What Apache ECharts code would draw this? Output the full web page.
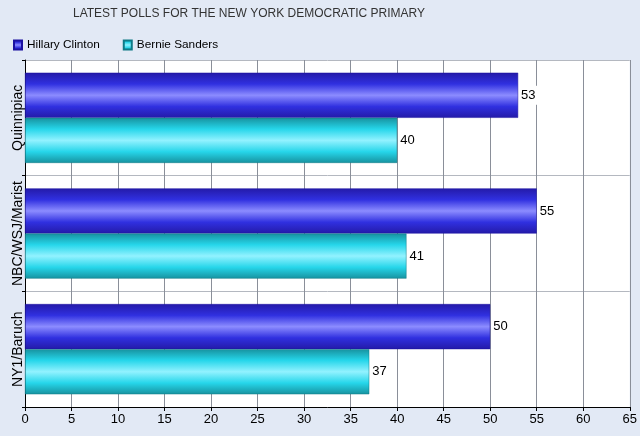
<!DOCTYPE html>
<html>
<head>
<meta charset="utf-8">
<script src="https://cdn.jsdelivr.net/npm/echarts@6/dist/echarts.min.js"></script>
<style>
  html, body { margin: 0; padding: 0; background: #e2e9f5; }
  #chart { width: 640px; height: 436px; }
</style>
</head>
<body>
<div id="chart"></div>
<script>
var polls = ['Quinnipiac', 'NBC/WSJ/Marist', 'NY1/Baruch'];
var clinton = [53, 55, 50];
var sanders = [40, 41, 37];
var xTicks = [0, 65, 5];   // min, max, interval

var font = 'Liberation Sans, Arial';

function tube(edge, mid, light) {
    return new echarts.graphic.LinearGradient(0, 0, 0, 1, [
        { offset: 0, color: edge },
        { offset: 0.25, color: mid },
        { offset: 0.5, color: light },
        { offset: 0.75, color: mid },
        { offset: 1, color: edge }
    ]);
}

var labelStyle = {
    show: true,
    position: 'right',
    distance: 1,
    color: '#000',
    fontSize: 13,
    fontFamily: font,
    backgroundColor: '#fff',
    padding: [3, 2, 3, 2]
};

var chart = echarts.init(document.getElementById('chart'));
var option = {
    backgroundColor: '#e2e9f5',
    animation: false,
    title: {
        text: 'LATEST POLLS FOR THE NEW YORK DEMOCRATIC PRIMARY',
        left: 68,
        top: 3,
        textStyle: { fontSize: 12, fontWeight: 'normal', color: '#333', fontFamily: font }
    },
    legend: {
        left: 8,
        top: 34,
        itemWidth: 8,
        itemHeight: 9,
        itemGap: 23,
        icon: 'rect',
        textStyle: { fontSize: 11.8, color: '#000', fontFamily: font },
        data: ['Hillary Clinton', 'Bernie Sanders']
    },
    grid: { left: 25, right: 9, top: 60, bottom: 29, show: true, backgroundColor: '#fff', borderWidth: 0 },
    xAxis: {
        type: 'value',
        min: xTicks[0],
        max: xTicks[1],
        interval: xTicks[2],
        axisLine: { show: true, lineStyle: { color: '#000' } },
        axisTick: { show: true, length: 4, lineStyle: { color: '#000' } },
        axisLabel: { color: '#000', fontSize: 13, fontFamily: font, margin: 6 },
        splitLine: { show: true, lineStyle: { color: '#8a8f99' } }
    },
    yAxis: {
        type: 'category',
        inverse: true,
        data: polls,
        axisLine: { show: true, lineStyle: { color: '#000' } },
        axisTick: { show: true, length: 3, interval: 0, lineStyle: { color: '#000' } },
        axisLabel: { rotate: 90, interval: 0, color: '#000', fontSize: 14, fontFamily: font, margin: 0 },
        splitLine: { show: true, interval: 0, lineStyle: { color: '#b4b8c0' } }
    },
    series: [
        {
            name: 'Hillary Clinton',
            type: 'bar',
            data: clinton,
            barGap: '0%',
            barCategoryGap: '22%',
            itemStyle: { color: tube('#241aa8', '#3030e0', '#8c8cff'), borderColor: '#1a10a0', borderWidth: 0.5 },
            label: labelStyle
        },
        {
            name: 'Bernie Sanders',
            type: 'bar',
            data: sanders,
            barGap: '0%',
            barCategoryGap: '22%',
            itemStyle: { color: tube('#17929f', '#26d6ea', '#92f2ff'), borderColor: '#0f7a86', borderWidth: 0.5 },
            label: labelStyle
        }
    ]
};
chart.setOption(option);
</script>
</body>
</html>
